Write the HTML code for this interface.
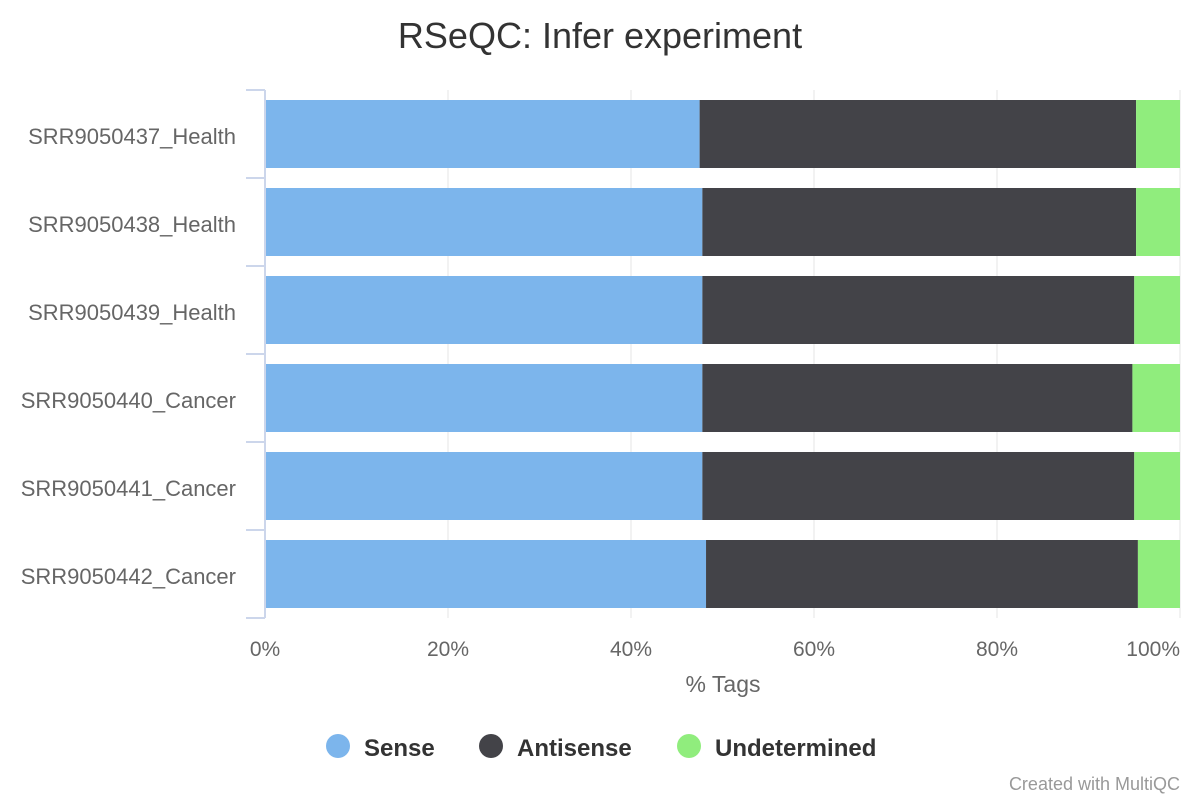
<!DOCTYPE html>
<html><head><meta charset="utf-8"><style>
body{margin:0;background:#fff;font-family:"Liberation Sans",sans-serif;}
</style></head><body>
<svg id="chart" width="1200" height="800" xmlns="http://www.w3.org/2000/svg">
<text x="600" y="48" text-anchor="middle" font-size="36" fill="#333">RSeQC: Infer experiment</text>
<g id="grid"></g><g id="bars"></g><g id="axes"></g>
<text x="723" y="692" text-anchor="middle" font-size="23" fill="#666">% Tags</text>
<g id="legend"></g>
<text x="1180" y="790" text-anchor="end" font-size="18" fill="#999">Created with MultiQC</text>
</svg>
<script>
const categories=["SRR9050437_Health","SRR9050438_Health","SRR9050439_Health","SRR9050440_Cancer","SRR9050441_Cancer","SRR9050442_Cancer"];
const sense=[47.5,47.8,47.8,47.8,47.8,48.2];
const antisense=[47.7,47.4,47.2,47.0,47.2,47.2];
const undetermined=[4.8,4.8,5.0,5.2,5.0,4.6];
const seriesNames=["Sense","Antisense","Undetermined"];
const colors=["#7cb5ec","#434348","#90ed7d"];
const xTicks=[0,20,40,60,80,100];
const NS="http://www.w3.org/2000/svg";
const x0=265,x1=1180,yTop=90,band=88;
const xs=v=>x0+(x1-x0)*v/100;
function mk(tag,attrs,parent){const e=document.createElementNS(NS,tag);for(const k in attrs)e.setAttribute(k,attrs[k]);document.getElementById(parent).appendChild(e);return e;}
xTicks.forEach((t,i)=>{
 const l=mk('line',{x1:xs(t),x2:xs(t),y1:yTop,y2:yTop+band*categories.length,stroke:'#e6e6e6'},'grid');
 
 
 const last=i===xTicks.length-1;
 const tx=mk('text',{x:xs(t),y:656,'text-anchor':last?'end':'middle','font-size':21,fill:'#666'},'axes');
 tx.textContent=t+'%';
 
 
});
const ax=mk('line',{x1:265,x2:265,y1:yTop,y2:yTop+band*categories.length,stroke:'#ccd6eb','stroke-width':2},'axes');


for(let i=0;i<=categories.length;i++){
 const tk=mk('line',{x1:246,x2:265,y1:yTop+band*i,y2:yTop+band*i,stroke:'#ccd6eb','stroke-width':2},'axes');
 
 
}
categories.forEach((c,i)=>{
 const yc=yTop+band*i+band/2;
 const tx=mk('text',{x:236,y:yc+10,'text-anchor':'end','font-size':22,fill:'#666'},'axes');
 tx.textContent=c;
 
 
 const vals=[sense[i],antisense[i],undetermined[i]];
 const tot=vals.reduce((a,b)=>a+b,0);
 let acc=0;
 vals.forEach((v,j)=>{
  const p=v/tot*100;
  const r=mk('rect',{x:xs(acc),y:yc-34,width:xs(acc+p)-xs(acc),height:68,fill:colors[j]},'bars');
  
  
  acc+=p;
 });
});
const lx=[338,491,689];
seriesNames.forEach((n,j)=>{
 const c=mk('circle',{cx:lx[j],cy:746,r:12,fill:colors[j]},'legend');
 
 
 const t=mk('text',{x:lx[j]+26,y:756,'font-size':24,'font-weight':'bold',fill:'#333'},'legend');
 t.textContent=n;
 
 
});
</script>
</body></html>
